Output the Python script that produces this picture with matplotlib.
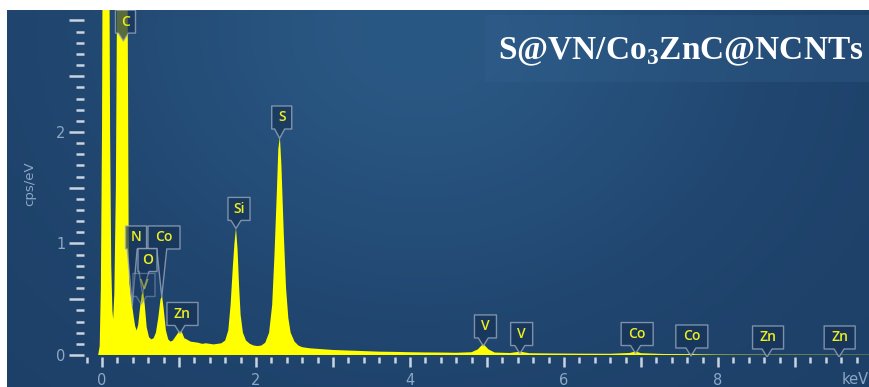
import numpy as np
import matplotlib
matplotlib.use("Agg")
import matplotlib.pyplot as plt
from matplotlib.patches import Polygon, Rectangle
from matplotlib.transforms import IdentityTransform
from matplotlib.ticker import MultipleLocator, FuncFormatter

plt.rcParams['mathtext.fontset'] = 'custom'
plt.rcParams['mathtext.rm'] = 'Liberation Serif'
plt.rcParams['mathtext.bf'] = 'Liberation Serif:bold'

# EDS spectrum (keV, cps/eV)
energy = [-0.05, -0.03, -0.015, 0.0, 0.012, 0.09, 0.105, 0.12, 0.135, 0.145, 0.16,
          0.18, 0.19, 0.205, 0.325, 0.345, 0.355, 0.37, 0.39, 0.41, 0.43, 0.45,
          0.47, 0.49, 0.515, 0.535, 0.555, 0.58, 0.61, 0.64, 0.67, 0.7, 0.73,
          0.76, 0.78, 0.8, 0.83, 0.86, 0.89, 0.92, 0.95, 0.98, 1.01, 1.04,
          1.07, 1.1, 1.15, 1.2, 1.25, 1.3, 1.35, 1.4, 1.45, 1.5, 1.55, 1.6,
          1.64, 1.67, 1.7, 1.72, 1.74, 1.76, 1.78, 1.8, 1.83, 1.87, 1.92,
          1.97, 2.02, 2.07, 2.12, 2.17, 2.21, 2.24, 2.27, 2.29, 2.31, 2.33,
          2.36, 2.39, 2.42, 2.45, 2.5, 2.55, 2.6, 2.7, 2.8, 2.9, 3.0, 3.2,
          3.4, 3.6, 3.8, 4.0, 4.2, 4.4, 4.6, 4.8, 4.88, 4.95, 5.02, 5.1,
          5.3, 5.43, 5.55, 5.8, 6.2, 6.6, 6.85, 6.93, 7.0, 7.3, 7.6, 7.65,
          7.7, 8.0, 8.6, 9.0, 9.97]
cps = [0.0, 0.08, 0.6, 2.0, 4.5, 4.5, 2.0, 0.8, 0.4, 0.32, 0.55,
       1.5, 2.6, 4.5, 4.5, 1.2, 0.65, 0.55, 0.45, 0.35, 0.26, 0.22,
       0.27, 0.4, 0.54, 0.57, 0.45, 0.25, 0.16, 0.14, 0.15, 0.2, 0.33,
       0.5, 0.53, 0.42, 0.22, 0.14, 0.12, 0.13, 0.16, 0.19, 0.22, 0.2,
       0.15, 0.14, 0.12, 0.115, 0.11, 0.10, 0.105, 0.10, 0.095, 0.10, 0.105, 0.13,
       0.22, 0.45, 0.8, 1.0, 1.14, 0.95, 0.62, 0.36, 0.2, 0.13, 0.1,
       0.085, 0.08, 0.085, 0.11, 0.2, 0.45, 0.9, 1.45, 1.85, 1.96, 1.7,
       1.1, 0.6, 0.33, 0.2, 0.12, 0.085, 0.07, 0.06, 0.055, 0.05, 0.045, 0.04,
       0.035, 0.03, 0.028, 0.025, 0.023, 0.022, 0.02, 0.025, 0.05, 0.1, 0.05, 0.022,
       0.018, 0.03, 0.016, 0.014, 0.012, 0.011, 0.018, 0.032, 0.016, 0.009, 0.008, 0.015,
       0.007, 0.004, 0.003, 0.003, 0.002]

# element markers: name, line energy, label box centre (keV, cps/eV)
names = ["C", "N", "Co", "O", "V", "Zn", "Si", "S", "V", "V", "Co", "Co", "Zn", "Zn"]
line_kev = [0.277, 0.392, 0.776, 0.525, 0.511, 1.012, 1.74, 2.307, 4.952, 5.427,
            6.930, 7.649, 8.637, 9.572]
box_kev = [0.305, 0.442, 0.805, 0.591, 0.545, 1.045, 1.779, 2.334, 4.98, 5.45,
           6.95, 7.66, 8.65, 9.58]
box_cps = [2.99, 1.054, 1.054, 0.852, 0.628, 0.368, 1.31, 2.13, 0.256, 0.188,
           0.188, 0.166, 0.157, 0.157]

fig = plt.figure(figsize=(8.7, 3.87), dpi=100)

# blue panel with a soft glow near the top
bg = fig.add_axes([7 / 870, 0, 863 / 870, 377 / 387])
bg.set_axis_off()
gx, gy = np.meshgrid(np.linspace(0, 1, 400), np.linspace(0, 1, 200))
d = ((gx - 0.48) / 0.42) ** 2 + ((gy - 0.05) / 0.8) ** 2
inner = np.array([42, 88, 132]) / 255
outer = np.array([29, 64, 104]) / 255
w = np.exp(-1.3 * d)[..., None]
bg.imshow(outer + (inner - outer) * w, aspect='auto', extent=(0, 1, 0, 1),
          interpolation='bilinear')

ax = fig.add_axes([84.3 / 870, 30 / 387, (870 - 84.3) / 870, 347 / 387])
ax.patch.set_alpha(0)
for s in ax.spines.values():
    s.set_visible(False)
ax.set_xlim(-0.23, 9.974)
ax.set_ylim(-0.018, 3.094)

ax.fill_between(energy, cps, 0, color='#ffff00', lw=0)

tick_col = '#c9d4e0'
lab_col = '#8ea7c4'
ax.xaxis.set_major_locator(MultipleLocator(1))
ax.xaxis.set_minor_locator(MultipleLocator(0.2))
ax.xaxis.set_major_formatter(FuncFormatter(lambda v, p: f"{v:.0f}" if round(v) % 2 == 0 else ""))
ax.yaxis.set_major_locator(MultipleLocator(0.5))
ax.yaxis.set_minor_locator(MultipleLocator(0.1))
ax.yaxis.set_major_formatter(FuncFormatter(lambda v, p: f"{v:.0f}" if abs(v - round(v)) < 1e-6 and v < 2.5 else ""))
ax.tick_params(axis='x', which='major', length=7.5, width=1.8, color=tick_col,
               labelcolor=lab_col, labelsize=10.5, pad=4)
ax.tick_params(axis='x', which='minor', length=4.3, width=1.8, color=tick_col)
ax.tick_params(axis='y', which='major', length=10.5, width=1.8, color=tick_col,
               labelcolor=lab_col, labelsize=10.5, pad=3)
ax.tick_params(axis='y', which='minor', length=5.8, width=1.8, color=tick_col)
ax.set_ylabel('cps/eV', color=lab_col, fontsize=9.5)
ax.yaxis.set_label_coords(-0.0615, 0.5)
fig.text(842 / 870, 1 - 380 / 387, 'keV', color=lab_col, fontsize=10.5,
         ha='left', va='center')

# element callouts
widths = {"C": 20, "N": 21, "O": 19, "V": 22, "S": 20, "Si": 22, "Co": 32, "Zn": 31}
for name, e, bxk, byc in zip(names, line_kev, box_kev, box_cps):
    bx, by = ax.transData.transform((bxk, byc))
    h = 23
    wd = widths[name]
    l, r, top, bot = bx - wd / 2, bx + wd / 2, by + h / 2, by - h / 2
    peak = np.interp(e, energy, cps)
    tx, ty = ax.transData.transform((e, peak))
    ty = min(ty, bot - 8)
    base = min(max(tx, l + 6), r - 6)
    faint = (name == "V" and e < 1)
    fa = 0.3 if faint else 0.72
    verts = [(l, top), (r, top), (r, bot), (base + 5, bot), (tx, ty),
             (base - 5, bot), (l, bot)]
    ax.add_patch(Polygon(verts, closed=True, transform=IdentityTransform(),
                         facecolor=(0.09, 0.2, 0.34, fa),
                         edgecolor=(0.62, 0.68, 0.76, 0.45 if faint else 0.75),
                         lw=1, joinstyle='round'))
    ax.text(bxk, byc, name, color='#eeee22', alpha=0.5 if faint else 1,
            fontsize=10, fontfamily='Open Sans', fontweight='semibold',
            ha='center', va='center')

# sample name panel
fig.add_artist(Rectangle((485 / 870, 1 - 82 / 387), 385 / 870, 67 / 387,
                         transform=fig.transFigure, facecolor=(0.2, 0.38, 0.56, 0.3),
                         lw=0))
fig.text(681 / 870, 1 - 52 / 387, r'S@VN/Co$_\mathbf{3}$ZnC@NCNTs', color='white',
         fontsize=24, fontfamily='Liberation Serif', fontweight='bold',
         ha='center', va='center')

fig.savefig('out.png', dpi=100)
